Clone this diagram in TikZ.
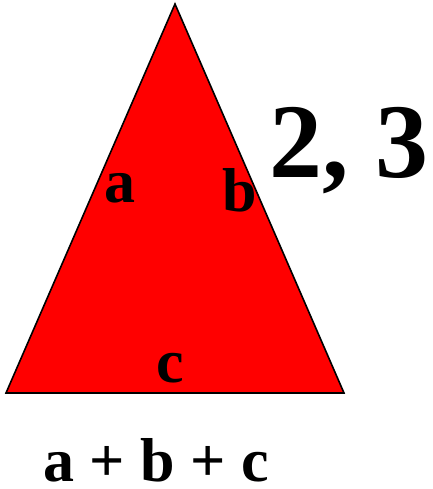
\documentclass[tikz,border=0pt]{standalone}
\usepackage{fontspec}
\setmainfont{Liberation Serif}
\begin{document}
\begin{tikzpicture}[x=1pt,y=1pt,
  lbl/.style={inner sep=0pt,anchor=base,font=\bfseries\fontsize{62}{62}\selectfont},
  big/.style={inner sep=0pt,anchor=base,font=\bfseries\fontsize{106}{106}\selectfont}]
\useasboundingbox (0,0) rectangle (432,489);
\coordinate (A) at (175,485);
\coordinate (B) at (6,96);
\coordinate (C) at (344,96);
\filldraw[fill=red,draw=black,line width=1.6pt,line join=miter] (A) -- (B) -- (C) -- cycle;
\node[lbl] (la) at (119.5,286) {a};
\node[lbl] (lb) at (240,277) {b};
\node[lbl] (lc) at (170,106) {c};
\node[big] (n23) at (349,311) {2, 3};
\node[lbl,text depth=0pt] (sum) at (156,7) {a + b + c};
\end{tikzpicture}
\end{document}
